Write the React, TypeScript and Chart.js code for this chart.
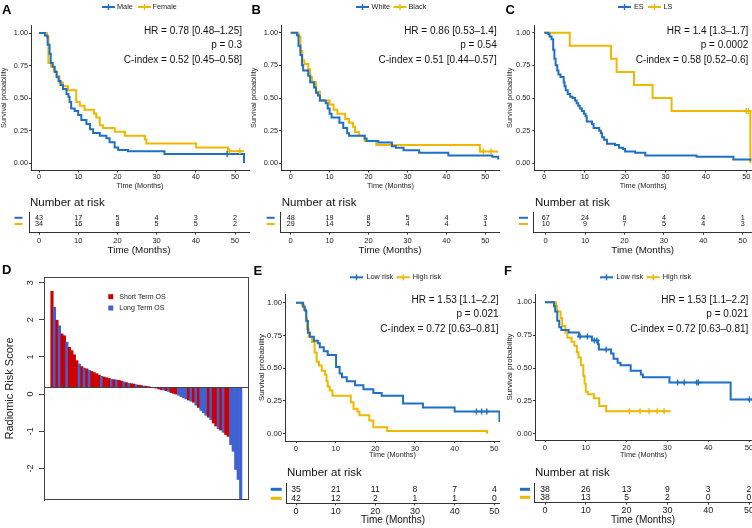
import React, { useEffect, useRef } from 'react';
import { Chart, registerables } from 'chart.js';

Chart.register(...registerables);

const FONT = "'Liberation Sans', Arial, Helvetica, sans-serif";
Chart.defaults.font.family = FONT;
Chart.defaults.color = '#222222';

const BLUE = '#1f6fc5';
const YELLOW = '#efb700';
const RED_D = '#cc0000';
const BLUE_D = '#3f62d2';
const AXIS = '#333333';

// ---------------- shared ticks ----------------
const timeTicks = [0, 10, 20, 30, 40, 50];
const survTicks = [0, 0.25, 0.5, 0.75, 1];
const scoreTicks = [-2, -1, 0, 1, 2, 3];
const riskTimes = [0, 10, 20, 30, 40, 50];

// ---------------- Panel A : sex ----------------
const aGroups = ['Male', 'Female'];
const aStats = ['HR = 0.78 [0.48–1.25]', 'p = 0.3', 'C-index = 0.52 [0.45–0.58]'];
const aMaleT = [0, 1.5, 2.2, 2.7, 3.0, 3.5, 4.0, 4.5, 5.0, 5.5, 6.1, 7.0, 7.5, 7.8, 8.2, 9.1, 10.0, 10.8, 12.1, 13.0, 13.8, 15.5, 17.2, 18.0, 19.3, 20.2, 22.7, 32.0, 52.3];
const aMaleS = [1, 0.98, 0.91, 0.84, 0.77, 0.74, 0.70, 0.66, 0.63, 0.60, 0.57, 0.53, 0.51, 0.47, 0.42, 0.40, 0.37, 0.33, 0.30, 0.26, 0.23, 0.21, 0.19, 0.16, 0.12, 0.10, 0.09, 0.07, 0];
const aMaleC = [48.0];
const aFemT = [0, 2.0, 2.4, 3.1, 3.8, 4.5, 5.2, 6.1, 7.4, 9.5, 10.4, 11.6, 14.0, 14.6, 15.5, 16.3, 19.3, 21.9, 27.0, 27.4, 40.1, 48.2, 52.3];
const aFemS = [1, 0.97, 0.77, 0.74, 0.71, 0.67, 0.62, 0.59, 0.56, 0.47, 0.44, 0.41, 0.38, 0.35, 0.29, 0.27, 0.24, 0.21, 0.18, 0.15, 0.12, 0.09, 0.09];
const aFemC = [48.6, 51.2];
const aRiskMale = [43, 17, 5, 4, 3, 2];
const aRiskFem = [34, 16, 8, 5, 5, 2];

// ---------------- Panel B : race ----------------
const bGroups = ['White', 'Black'];
const bStats = ['HR = 0.86 [0.53–1.4]', 'p = 0.54', 'C-index = 0.51 [0.44–0.57]'];
const bWhiteT = [0, 1.6, 2.0, 2.5, 2.9, 3.2, 4.5, 5.0, 6.0, 6.5, 7.0, 7.5, 9.0, 9.5, 10.0, 10.5, 12.5, 13.5, 14.5, 15.0, 19.0, 19.5, 22.5, 26.0, 27.0, 29.0, 33.0, 40.5, 51.8, 53.3];
const bWhiteS = [1, 0.98, 0.90, 0.83, 0.75, 0.71, 0.67, 0.62, 0.58, 0.54, 0.52, 0.48, 0.46, 0.42, 0.38, 0.35, 0.31, 0.27, 0.23, 0.21, 0.19, 0.17, 0.16, 0.13, 0.12, 0.10, 0.08, 0.06, 0.05, 0.03];
const bWhiteC: number[] = [];
const bBlackT = [0, 2.0, 2.5, 3.0, 3.5, 4.5, 5.0, 5.5, 6.5, 7.5, 10.0, 11.0, 12.0, 14.0, 15.0, 16.0, 16.5, 17.5, 19.0, 22.0, 48.6, 53.3];
const bBlackS = [1, 0.97, 0.86, 0.79, 0.76, 0.72, 0.66, 0.62, 0.55, 0.48, 0.45, 0.41, 0.38, 0.34, 0.31, 0.28, 0.24, 0.21, 0.17, 0.14, 0.09, 0.09];
const bBlackC = [49.5, 51.5];
const bRiskWhite = [48, 19, 8, 5, 4, 3];
const bRiskBlack = [29, 14, 5, 4, 4, 1];

// ---------------- Panel C : stage ----------------
const cGroups = ['ES', 'LS'];
const cStats = ['HR = 1.4 [1.3–1.7]', 'p = 0.0002', 'C-index = 0.58 [0.52–0.6]'];
const cEsT = [0, 1.0, 1.3, 1.8, 2.2, 2.5, 2.8, 3.2, 3.5, 4.0, 4.8, 5.0, 5.3, 5.8, 6.4, 7.0, 7.6, 8.0, 8.4, 8.8, 9.3, 9.8, 10.2, 10.5, 11.8, 12.2, 13.6, 14.0, 14.3, 14.8, 15.5, 17.5, 18.5, 19.5, 20.0, 22.5, 25.0, 37.7, 46.8, 51.0];
const cEsS = [1, 0.99, 0.97, 0.95, 0.87, 0.80, 0.75, 0.71, 0.68, 0.66, 0.62, 0.59, 0.56, 0.53, 0.51, 0.50, 0.48, 0.46, 0.44, 0.42, 0.40, 0.38, 0.36, 0.32, 0.30, 0.27, 0.25, 0.23, 0.20, 0.18, 0.15, 0.14, 0.12, 0.11, 0.09, 0.08, 0.06, 0.05, 0.03, 0.02];
const cEsC: number[] = [];
const cLsT = [0, 6.3, 16.5, 17.9, 22.2, 26.8, 31.5, 51.0];
const cLsS = [1, 0.9, 0.8, 0.7, 0.6, 0.5, 0.4, 0];
const cLsC = [50.0, 50.5];
const cRiskEs = [67, 24, 6, 4, 4, 1];
const cRiskLs = [10, 9, 7, 5, 4, 3];

// ---------------- Panel D : radiomic risk score waterfall ----------------
const dLegend = ['Short Term OS', 'Long Term OS'];
const dBase = 0.18;
const dScores = [
  2.77, 2.34, 1.99, 1.84, 1.62, 1.57, 1.40, 1.26, 1.17, 1.06,
  0.90, 0.81, 0.74, 0.70, 0.68, 0.64, 0.61, 0.58, 0.55, 0.51,
  0.48, 0.46, 0.44, 0.42, 0.40, 0.39, 0.38, 0.37, 0.35, 0.33,
  0.31, 0.29, 0.28, 0.27, 0.25, 0.24, 0.23, 0.22, 0.21, 0.20,
  0.185, 0.17, 0.16, 0.14, 0.12, 0.11, 0.09, 0.07, 0.04, 0.02,
  0.0, -0.03, -0.07, -0.10, -0.13, -0.16, -0.19, -0.22, -0.30, -0.36,
  -0.44, -0.50, -0.57, -0.62, -0.69, -0.78, -0.86, -0.93, -0.97, -1.03,
  -1.09, -1.14, -1.36, -1.54, -2.03, -2.30, -2.84,
];
const dGroup = [
  'S', 'L', 'S', 'L', 'S', 'S', 'L', 'S', 'S', 'S',
  'S', 'L', 'S', 'L', 'S', 'L', 'S', 'S', 'S', 'S',
  'L', 'S', 'S', 'S', 'L', 'S', 'L', 'S', 'S', 'L',
  'S', 'L', 'S', 'S', 'L', 'S', 'S', 'L', 'S', 'S',
  'S', 'S', 'L', 'S', 'S', 'L', 'S', 'L', 'S', 'S',
  'S', 'L', 'L', 'L', 'L', 'S', 'L', 'S', 'L', 'S',
  'L', 'L', 'L', 'S', 'L', 'S', 'S', 'L', 'S', 'L',
  'S', 'S', 'L', 'L', 'L', 'L', 'L',
];

// ---------------- Panels E, F : radiomic risk groups ----------------
const efGroups = ['Low risk', 'High risk'];
const eStats = ['HR = 1.53 [1.1–2.2]', 'p = 0.021', 'C-index = 0.72 [0.63–0.81]'];
const eLowT = [0, 1.8, 2.2, 2.6, 3.0, 3.5, 4.5, 5.5, 6.0, 7.0, 8.0, 10.1, 11.0, 11.6, 12.8, 14.9, 17.0, 19.5, 21.6, 27.0, 32.0, 40.0, 51.3];
const eLowS = [1, 0.97, 0.94, 0.86, 0.77, 0.74, 0.71, 0.69, 0.66, 0.63, 0.60, 0.51, 0.46, 0.43, 0.40, 0.37, 0.34, 0.31, 0.29, 0.23, 0.20, 0.17, 0.09];
const eLowC = [45.5, 46.8, 48.1];
const eHighT = [0, 1.5, 2.0, 2.5, 2.8, 3.2, 4.0, 4.7, 5.2, 5.8, 6.5, 7.3, 7.7, 8.0, 8.5, 9.2, 13.8, 14.5, 15.5, 16.0, 18.5, 19.5, 23.0, 48.2];
const eHighS = [1, 0.98, 0.95, 0.88, 0.80, 0.74, 0.70, 0.62, 0.55, 0.52, 0.48, 0.45, 0.40, 0.36, 0.33, 0.29, 0.24, 0.19, 0.17, 0.14, 0.10, 0.05, 0.02, 0];
const eHighC: number[] = [];
const eRiskLow = [35, 21, 11, 8, 7, 4];
const eRiskHigh = [42, 12, 2, 1, 1, 0];

const fStats = ['HR = 1.53 [1.1–2.2]', 'p = 0.021', 'C-index = 0.72 [0.63–0.81]'];
const fLowT = [0, 2.2, 2.5, 3.0, 3.5, 4.0, 5.8, 8.3, 11.5, 13.0, 13.2, 16.2, 16.8, 17.8, 18.5, 21.0, 23.5, 24.0, 30.5, 45.5, 53.0];
const fLowS = [1, 0.97, 0.93, 0.86, 0.81, 0.79, 0.77, 0.74, 0.71, 0.68, 0.64, 0.61, 0.57, 0.54, 0.52, 0.48, 0.45, 0.43, 0.39, 0.26, 0.26];
const fLowC = [8.6, 10.4, 12.1, 12.7, 15.0, 32.5, 34.1, 37.2, 37.6, 50.1];
const fHighT = [0, 2.7, 3.0, 3.8, 4.2, 5.0, 5.5, 6.5, 7.2, 7.8, 8.2, 8.8, 9.4, 9.7, 10.0, 10.5, 12.0, 13.3, 15.0, 30.8];
const fHighS = [1, 0.97, 0.93, 0.88, 0.82, 0.77, 0.73, 0.70, 0.67, 0.62, 0.58, 0.52, 0.44, 0.38, 0.32, 0.30, 0.27, 0.21, 0.17, 0.17];
const fHighC = [20.7, 23.3, 25.5, 27.5, 29.2];
const fRiskLow = [38, 26, 13, 9, 3, 2];
const fRiskHigh = [38, 13, 5, 2, 0, 0];

// ---------------- layout ----------------
type Box = { x: number; y: number; w: number; h: number };
type Area = { l: number; t: number; r: number; b: number };
type Curve = { T: number[]; S: number[]; C: number[]; color: string };

type KMLayout = {
  box: Box; area: Area;
  x0: number; x50: number; y1: number; y0: number;
  letter: { text: string; x: number; y: number };
  legendY: number; keys: number[]; texts: number[];
  statsX: number; statsY: number[];
  tickFont: number; yTitleFont: number; yTitlePad: number; xTitleFont: number; xTitlePad: number;
  tickLen: number; xTickPad: number; yTickPad: number;
};

type TableLayout = {
  box: Box; area: Area; x0: number; x50: number; row1: number; row2: number;
  headX: number; headY: number; headFont: number; numFont: number;
  tickFont: number; titleFont: number; titlePad: number; tickPad: number;
  sw1: number; sw2: number; swH: number;
};

const layA: KMLayout = {
  box: { x: 0, y: 0, w: 250, h: 192 }, area: { l: 31, t: 25, r: 249, b: 170.5 },
  x0: 39, x50: 235, y1: 33, y0: 163,
  letter: { text: 'A', x: 2, y: 13.5 }, legendY: 7, keys: [102, 138], texts: [117, 152.5],
  statsX: 242, statsY: [31, 45.5, 60.5],
  tickFont: 7.3, yTitleFont: 7.2, yTitlePad: 0, xTitleFont: 7.3, xTitlePad: 2, tickLen: 2, xTickPad: 0, yTickPad: 1,
};
const layB: KMLayout = {
  box: { x: 250, y: 0, w: 250, h: 192 }, area: { l: 281, t: 25, r: 500, b: 170.5 },
  x0: 290.7, x50: 485.3, y1: 32.7, y0: 163.3,
  letter: { text: 'B', x: 251.5, y: 13.5 }, legendY: 7, keys: [356, 393.5], texts: [371.5, 408.5],
  statsX: 496.7, statsY: [31, 45.5, 60.5],
  tickFont: 7.3, yTitleFont: 7.2, yTitlePad: 0, xTitleFont: 7.3, xTitlePad: 2, tickLen: 2, xTickPad: 0, yTickPad: 1,
};
const layC: KMLayout = {
  box: { x: 500, y: 0, w: 252, h: 192 }, area: { l: 534.3, t: 25, r: 752, b: 170.5 },
  x0: 544.3, x50: 746.3, y1: 32.7, y0: 163.3,
  letter: { text: 'C', x: 505.5, y: 13.5 }, legendY: 7, keys: [618, 648], texts: [634, 663.5],
  statsX: 748.3, statsY: [31, 45.5, 60.5],
  tickFont: 7.3, yTitleFont: 7.2, yTitlePad: 5.5, xTitleFont: 7.3, xTitlePad: 2, tickLen: 2, xTickPad: 0, yTickPad: 2,
};
const layE: KMLayout = {
  box: { x: 250, y: 258, w: 250, h: 205 }, area: { l: 285, t: 294, r: 500, b: 441 },
  x0: 296, x50: 494.3, y1: 302.7, y0: 433.7,
  letter: { text: 'E', x: 253.5, y: 275 }, legendY: 277.3, keys: [350, 396.7], texts: [366.5, 412.7],
  statsX: 498.5, statsY: [300, 314.5, 329],
  tickFont: 7.7, yTitleFont: 8, yTitlePad: 7, xTitleFont: 7.3, xTitlePad: 3.6, tickLen: 2, xTickPad: 1, yTickPad: 1,
};
const layF: KMLayout = {
  box: { x: 500, y: 258, w: 252, h: 205 }, area: { l: 535, t: 294, r: 752, b: 440 },
  x0: 545, x50: 749, y1: 302.3, y0: 433.7,
  letter: { text: 'F', x: 504, y: 275 }, legendY: 277.3, keys: [600, 646.7], texts: [616.5, 662.7],
  statsX: 748.3, statsY: [300, 314.5, 329],
  tickFont: 7.7, yTitleFont: 8, yTitlePad: 5.2, xTitleFont: 7.3, xTitlePad: 3.6, tickLen: 2, xTickPad: 1, yTickPad: 1,
};

const tabA: TableLayout = {
  box: { x: 0, y: 196, w: 250, h: 60 }, area: { l: 29, t: 212.5, r: 249, b: 232.7 },
  x0: 39, x50: 235, row1: 217.8, row2: 224, headX: 30, headY: 203.3, headFont: 11.5, numFont: 7.2,
  tickFont: 7.5, titleFont: 9.8, titlePad: 0, tickPad: 2, sw1: 14.5, sw2: 22.5, swH: 2,
};
const tabB: TableLayout = {
  box: { x: 250, y: 196, w: 250, h: 60 }, area: { l: 280, t: 212.5, r: 500, b: 232.7 },
  x0: 290.7, x50: 485.3, row1: 217.8, row2: 224, headX: 281.7, headY: 203.3, headFont: 11.5, numFont: 7.2,
  tickFont: 7.5, titleFont: 9.8, titlePad: 0, tickPad: 2, sw1: 266.7, sw2: 274.7, swH: 2,
};
const tabC: TableLayout = {
  box: { x: 500, y: 196, w: 252, h: 60 }, area: { l: 533.3, t: 212.5, r: 752, b: 232.7 },
  x0: 545.7, x50: 742.7, row1: 217.8, row2: 224, headX: 535, headY: 203.3, headFont: 11.5, numFont: 7.2,
  tickFont: 7.5, titleFont: 9.8, titlePad: 0, tickPad: 2, sw1: 519, sw2: 528, swH: 2,
};
const tabE: TableLayout = {
  box: { x: 250, y: 462, w: 250, h: 66 }, area: { l: 286, t: 483, r: 500, b: 503.3 },
  x0: 296, x50: 494.3, row1: 489.3, row2: 498.3, headX: 287, headY: 473, headFont: 11.5, numFont: 8.6,
  tickFont: 9, titleFont: 10, titlePad: 1.4, tickPad: 0.5, sw1: 270.7, sw2: 281.7, swH: 3,
};
const tabF: TableLayout = {
  box: { x: 500, y: 462, w: 252, h: 66 }, area: { l: 534, t: 483, r: 752, b: 502.7 },
  x0: 545, x50: 749, row1: 489.3, row2: 497.3, headX: 535, headY: 473, headFont: 11.5, numFont: 8.6,
  tickFont: 9, titleFont: 10, titlePad: 1.4, tickPad: 0.5, sw1: 520, sw2: 530, swH: 3,
};

const layD = {
  box: { x: 0, y: 258, w: 250, h: 270 }, area: { l: 44, t: 277, r: 249, b: 500 },
  zeroPx: 394.1, unitPx: 37.15, bar0: 52, barStep: 2.483,
  letter: { text: 'D', x: 2, y: 273.5 }, tickLabelX: 30.5,
  legX: 108.3, legTextX: 119.3, legY: [296.7, 308],
};

// ---------------- builders ----------------
function survAt(T: number[], S: number[], t: number) {
  let s = S[0];
  for (let i = 0; i < T.length; i++) if (T[i] <= t) s = S[i];
  return s;
}

function buildKM(L: KMLayout, labels: string[], curves: Curve[], stats: string[]): any {
  const bx = L.box.x, by = L.box.y;
  const ppx = (L.x50 - L.x0) / 50;
  const ppy = L.y0 - L.y1;
  const datasets: any[] = [];
  curves.forEach((c) => {
    datasets.push({
      data: c.T.map((t, i) => ({ x: t, y: c.S[i] })),
      borderColor: c.color, borderWidth: 2, stepped: true, pointRadius: 0, fill: false, order: 2,
    });
  });
  curves.forEach((c) => {
    datasets.push({
      data: c.C.map((t) => ({ x: t, y: survAt(c.T, c.S, t) })),
      showLine: false, pointStyle: 'cross', pointRadius: 3, pointBorderWidth: 1.4,
      borderColor: c.color, backgroundColor: c.color, order: 1,
    });
  });
  const deco = {
    id: 'kmDeco',
    afterDraw(chart: any) {
      const ctx = chart.ctx as CanvasRenderingContext2D;
      ctx.save();
      ctx.fillStyle = '#000';
      ctx.font = `bold 13px ${FONT}`;
      ctx.textAlign = 'left';
      ctx.textBaseline = 'alphabetic';
      ctx.fillText(L.letter.text, L.letter.x - bx, L.letter.y - by);
      ctx.font = `7.3px ${FONT}`;
      ctx.textBaseline = 'middle';
      labels.forEach((lab, i) => {
        const kx = L.keys[i] - bx, ky = L.legendY - by;
        ctx.strokeStyle = curves[i].color;
        ctx.lineWidth = 2;
        ctx.beginPath(); ctx.moveTo(kx, ky); ctx.lineTo(kx + 13, ky); ctx.stroke();
        ctx.lineWidth = 1.4;
        ctx.beginPath(); ctx.moveTo(kx + 6.5, ky - 3); ctx.lineTo(kx + 6.5, ky + 3); ctx.stroke();
        ctx.fillStyle = '#222';
        ctx.fillText(lab, L.texts[i] - bx, ky);
      });
      ctx.font = `10px ${FONT}`;
      ctx.textAlign = 'right';
      ctx.fillStyle = '#111';
      stats.forEach((s, i) => ctx.fillText(s, L.statsX - bx, L.statsY[i] - by));
      ctx.restore();
    },
  };
  return {
    type: 'line',
    data: { datasets },
    options: {
      responsive: false, animation: false, events: [],
      layout: { autoPadding: false, padding: { left: 0, top: L.area.t - by, right: bx + L.box.w - L.area.r, bottom: 0 } },
      plugins: { legend: { display: false }, tooltip: { enabled: false } },
      scales: {
        x: {
          type: 'linear', min: (L.area.l - L.x0) / ppx, max: (L.area.r - L.x0) / ppx,
          afterBuildTicks: (s: any) => { s.ticks = timeTicks.map((v) => ({ value: v })); },
          afterFit: (s: any) => { s.height = by + L.box.h - L.area.b; s.paddingLeft = 0; s.paddingRight = 0; },
          grid: { display: true, drawOnChartArea: false, drawTicks: true, tickLength: L.tickLen, color: AXIS },
          border: { display: true, color: AXIS, width: 1 },
          ticks: { font: { size: L.tickFont }, padding: L.xTickPad, color: '#222', maxRotation: 0, autoSkip: false },
          title: { display: true, text: 'Time (Months)', font: { size: L.xTitleFont }, padding: { top: 0, bottom: L.xTitlePad }, color: '#222' },
        },
        y: {
          type: 'linear', min: -(L.area.b - L.y0) / ppy, max: 1 + (L.y1 - L.area.t) / ppy,
          afterBuildTicks: (s: any) => { s.ticks = survTicks.map((v) => ({ value: v })); },
          afterFit: (s: any) => { s.width = L.area.l - bx; s.paddingTop = 0; s.paddingBottom = 0; },
          grid: { display: true, drawOnChartArea: false, drawTicks: true, tickLength: L.tickLen, color: AXIS },
          border: { display: true, color: AXIS, width: 1 },
          ticks: { font: { size: L.tickFont }, padding: L.yTickPad, color: '#222', callback: (v: any) => Number(v).toFixed(2) },
          title: { display: true, text: 'Survival probability', font: { size: L.yTitleFont }, padding: { top: L.yTitlePad, bottom: 0 }, color: '#222' },
        },
      },
    },
    plugins: [deco],
  };
}

function buildTable(L: TableLayout, rows: number[][], colors: string[]): any {
  const bx = L.box.x, by = L.box.y;
  const ppx = (L.x50 - L.x0) / 50;
  const ppr = L.row2 - L.row1;
  const datasets = rows.map((counts, r) => ({
    data: riskTimes.map((t, i) => ({ x: t, y: r + 1, n: counts[i] })),
    showLine: false, pointRadius: 0, borderColor: colors[r], backgroundColor: colors[r],
  }));
  const deco = {
    id: 'riskDeco',
    afterDraw(chart: any) {
      const ctx = chart.ctx as CanvasRenderingContext2D;
      ctx.save();
      ctx.fillStyle = '#111';
      ctx.font = `${L.headFont}px ${FONT}`;
      ctx.textAlign = 'left';
      ctx.textBaseline = 'middle';
      ctx.fillText('Number at risk', L.headX - bx, L.headY - by);
      ctx.font = `${L.numFont}px ${FONT}`;
      ctx.textAlign = 'center';
      chart.data.datasets.forEach((ds: any, di: number) => {
        const meta = chart.getDatasetMeta(di);
        meta.data.forEach((pt: any, i: number) => {
          ctx.fillStyle = '#111';
          ctx.fillText(String(ds.data[i].n), pt.x, pt.y);
        });
        const y = chart.scales.y.getPixelForValue(di + 1);
        ctx.strokeStyle = colors[di];
        ctx.lineWidth = L.swH;
        ctx.beginPath(); ctx.moveTo(L.sw1 - bx, y); ctx.lineTo(L.sw2 - bx, y); ctx.stroke();
      });
      ctx.restore();
    },
  };
  return {
    type: 'line',
    data: { datasets },
    options: {
      responsive: false, animation: false, events: [],
      layout: { autoPadding: false, padding: { left: 0, top: L.area.t - by, right: bx + L.box.w - L.area.r, bottom: 0 } },
      plugins: { legend: { display: false }, tooltip: { enabled: false } },
      scales: {
        x: {
          type: 'linear', min: (L.area.l - L.x0) / ppx, max: (L.area.r - L.x0) / ppx,
          afterBuildTicks: (s: any) => { s.ticks = timeTicks.map((v) => ({ value: v })); },
          afterFit: (s: any) => { s.height = by + L.box.h - L.area.b; s.paddingLeft = 0; s.paddingRight = 0; },
          grid: { display: true, drawOnChartArea: false, drawTicks: true, tickLength: 2, color: AXIS },
          border: { display: true, color: AXIS, width: 1 },
          ticks: { font: { size: L.tickFont }, padding: L.tickPad, color: '#222', maxRotation: 0, autoSkip: false },
          title: { display: true, text: 'Time (Months)', font: { size: L.titleFont }, padding: { top: 0, bottom: L.titlePad }, color: '#111' },
        },
        y: {
          type: 'linear', reverse: true,
          min: 1 - (L.row1 - L.area.t) / ppr, max: 2 + (L.area.b - L.row2) / ppr,
          afterFit: (s: any) => { s.width = L.area.l - bx; s.paddingTop = 0; s.paddingBottom = 0; },
          grid: { display: false, drawOnChartArea: false, drawTicks: false },
          border: { display: true, color: AXIS, width: 1 },
          ticks: { display: false },
        },
      },
    },
    plugins: [deco],
  };
}

function buildD(): any {
  const L = layD;
  const bx = L.box.x, by = L.box.y;
  const a = L.area;
  const deco = {
    id: 'dDeco',
    afterDraw(chart: any) {
      const ctx = chart.ctx as CanvasRenderingContext2D;
      const ca = chart.chartArea;
      const y = chart.scales.y;
      ctx.save();
      ctx.strokeStyle = '#444';
      ctx.lineWidth = 1;
      ctx.strokeRect(ca.left + 0.5, ca.top + 0.5, ca.right - ca.left - 1, ca.bottom - ca.top - 1);
      const yb = Math.round(y.getPixelForValue(dBase)) + 0.5;
      ctx.beginPath(); ctx.moveTo(ca.left, yb); ctx.lineTo(ca.right, yb); ctx.stroke();
      ctx.fillStyle = '#222';
      ctx.font = `9px ${FONT}`;
      ctx.textAlign = 'center';
      ctx.textBaseline = 'middle';
      scoreTicks.forEach((v) => {
        const py = y.getPixelForValue(v);
        ctx.save();
        ctx.translate(L.tickLabelX - bx, py);
        ctx.rotate(-Math.PI / 2);
        ctx.fillText(String(v), 0, 0);
        ctx.restore();
      });
      ctx.fillStyle = '#000';
      ctx.font = `bold 13px ${FONT}`;
      ctx.textAlign = 'left';
      ctx.textBaseline = 'alphabetic';
      ctx.fillText(L.letter.text, L.letter.x - bx, L.letter.y - by);
      ctx.font = `7px ${FONT}`;
      ctx.textBaseline = 'middle';
      [RED_D, BLUE_D].forEach((col, i) => {
        const ly = L.legY[i] - by;
        ctx.fillStyle = col;
        ctx.fillRect(L.legX - bx, ly - 2.5, 5, 5);
        ctx.fillStyle = '#222';
        ctx.fillText(dLegend[i], L.legTextX - bx, ly);
      });
      ctx.restore();
    },
  };
  return {
    type: 'bar',
    data: {
      datasets: [{
        data: dScores.map((v, i) => ({ x: i, y: v })),
        backgroundColor: dGroup.map((g) => (g === 'S' ? RED_D : BLUE_D)),
        base: dBase, barPercentage: 1, categoryPercentage: 1, borderWidth: 0,
      }],
    },
    options: {
      responsive: false, animation: false, events: [],
      layout: { autoPadding: false, padding: { left: 0, top: a.t - by, right: bx + L.box.w - a.r, bottom: by + L.box.h - a.b } },
      plugins: { legend: { display: false }, tooltip: { enabled: false } },
      scales: {
        x: {
          type: 'linear', offset: false, display: false,
          min: (a.l - L.bar0) / L.barStep, max: (a.r - L.bar0) / L.barStep,
        },
        y: {
          type: 'linear', min: -(a.b - L.zeroPx) / L.unitPx, max: (L.zeroPx - a.t) / L.unitPx,
          afterBuildTicks: (s: any) => { s.ticks = scoreTicks.map((v) => ({ value: v })); },
          afterFit: (s: any) => { s.width = a.l - bx; s.paddingTop = 0; s.paddingBottom = 0; },
          grid: { display: true, drawOnChartArea: false, drawTicks: true, tickLength: 5, color: '#444' },
          border: { display: true, color: '#444', width: 1 },
          ticks: { display: false },
          title: { display: true, text: 'Radiomic Risk Score', font: { size: 11 }, padding: { top: 3, bottom: 0 }, color: '#222' },
        },
      },
    },
    plugins: [deco],
  };
}

// ---------------- components ----------------
function ChartCanvas({ box, make }: { box: Box; make: () => any }) {
  const ref = useRef<HTMLCanvasElement>(null);
  useEffect(() => {
    const chart = new Chart(ref.current as HTMLCanvasElement, make());
    return () => chart.destroy();
  }, []);
  return (
    <canvas
      ref={ref}
      width={box.w}
      height={box.h}
      style={{ position: 'absolute', left: box.x, top: box.y, width: box.w, height: box.h }}
    />
  );
}

export default function App() {
  const cA: Curve[] = [
    { T: aMaleT, S: aMaleS, C: aMaleC, color: BLUE },
    { T: aFemT, S: aFemS, C: aFemC, color: YELLOW },
  ];
  const cB: Curve[] = [
    { T: bWhiteT, S: bWhiteS, C: bWhiteC, color: BLUE },
    { T: bBlackT, S: bBlackS, C: bBlackC, color: YELLOW },
  ];
  const cC: Curve[] = [
    { T: cEsT, S: cEsS, C: cEsC, color: BLUE },
    { T: cLsT, S: cLsS, C: cLsC, color: YELLOW },
  ];
  const cE: Curve[] = [
    { T: eLowT, S: eLowS, C: eLowC, color: BLUE },
    { T: eHighT, S: eHighS, C: eHighC, color: YELLOW },
  ];
  const cF: Curve[] = [
    { T: fLowT, S: fLowS, C: fLowC, color: BLUE },
    { T: fHighT, S: fHighS, C: fHighC, color: YELLOW },
  ];
  const cols = [BLUE, YELLOW];
  return (
    <div style={{ position: 'fixed', left: 0, top: 0, width: 752, height: 528, background: '#ffffff', overflow: 'hidden' }}>
      <ChartCanvas box={layA.box} make={() => buildKM(layA, aGroups, cA, aStats)} />
      <ChartCanvas box={tabA.box} make={() => buildTable(tabA, [aRiskMale, aRiskFem], cols)} />
      <ChartCanvas box={layB.box} make={() => buildKM(layB, bGroups, cB, bStats)} />
      <ChartCanvas box={tabB.box} make={() => buildTable(tabB, [bRiskWhite, bRiskBlack], cols)} />
      <ChartCanvas box={layC.box} make={() => buildKM(layC, cGroups, cC, cStats)} />
      <ChartCanvas box={tabC.box} make={() => buildTable(tabC, [cRiskEs, cRiskLs], cols)} />
      <ChartCanvas box={layD.box} make={() => buildD()} />
      <ChartCanvas box={layE.box} make={() => buildKM(layE, efGroups, cE, eStats)} />
      <ChartCanvas box={tabE.box} make={() => buildTable(tabE, [eRiskLow, eRiskHigh], cols)} />
      <ChartCanvas box={layF.box} make={() => buildKM(layF, efGroups, cF, fStats)} />
      <ChartCanvas box={tabF.box} make={() => buildTable(tabF, [fRiskLow, fRiskHigh], cols)} />
    </div>
  );
}
